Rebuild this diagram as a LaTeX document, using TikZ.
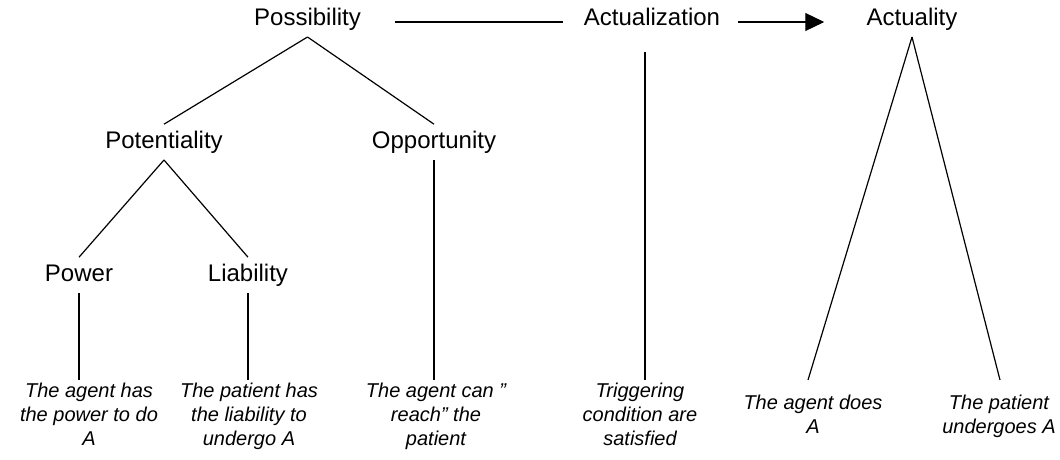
\documentclass[tikz,border=0pt]{standalone}
\usepackage{fontspec}
\setmainfont{Liberation Sans}
\usetikzlibrary{arrows.meta}
\begin{document}
\begin{tikzpicture}[x=0.5pt,y=-0.5pt,
  lbl/.style={font=\fontsize{12}{14}\selectfont, inner xsep=0pt, inner ysep=3pt,
              text height=9pt, text depth=2.5pt, anchor=base},
  desc/.style={font=\fontsize{10}{12}\selectfont\itshape, align=center,
               inner sep=0pt, anchor=north},
  conn/.style={line width=0.6pt, draw=black},
  vconn/.style={conn, shorten >=1.2pt}]
\useasboundingbox (0,0) rectangle (1060,460);

% labels
\node[lbl] (poss) at (307.5,25.6) {Possibility};
\node[lbl] (actz) at (652,25.6) {Actualization};
\node[lbl] (actu) at (912,25.6) {Actuality};
\node[lbl] (pot)  at (164,148.6) {Potentiality};
\node[lbl] (opp)  at (434,148.6) {Opportunity};
\node[lbl] (pow)  at (79,281.6) {Power};
\node[lbl] (liab) at (248,281.6) {Liability};

% descriptions
\node[desc] (t1) at (89,382.4)  {The agent has\\the power to do\\A};
\node[desc] (t2) at (249,382.4) {The patient has\\the liability to\\undergo A};
\node[desc] (t3) at (436,382.4) {The agent can ”\\reach” the\\patient};
\node[desc] (t4) at (640,382.4) {Triggering\\condition are\\satisfied};
\node[desc] (t5) at (813,394.4) {The agent does\\A};
\node[desc] (t6) at (999,394.4) {The patient\\undergoes A};

% connectors
\draw[conn] ([xshift=17pt,yshift=-1.45pt]poss.east) -- ([xshift=-10.5pt,yshift=-1.45pt]actz.west);
\draw[conn,-{Triangle[length=9.5pt,width=9pt]}] ([xshift=9pt,yshift=-1.45pt]actz.east) -- ([xshift=-21pt,yshift=-1.45pt]actu.west);
\draw[conn] (poss.south) -- (pot.north);
\draw[conn] (poss.south) -- (opp.north);
\draw[conn] (pot.south) -- (pow.north);
\draw[conn] (pot.south) -- (liab.north);
\draw[vconn] (pow.south) -- (pow.south |- t1.north);
\draw[vconn] (liab.south) -- (liab.south |- t2.north);
\draw[vconn] (opp.south) -- (opp.south |- t3.north);
\draw[vconn] ([xshift=-3.5pt,yshift=-7.7pt]actz.south) -- ([xshift=-3.5pt]actz.south |- t4.north);
\draw[conn] (actu.south) -- ([xshift=-2.5pt,yshift=7.2pt]t5.north);
\draw[conn] (actu.south) -- ([xshift=0.5pt,yshift=7.2pt]t6.north);
\end{tikzpicture}
\end{document}
